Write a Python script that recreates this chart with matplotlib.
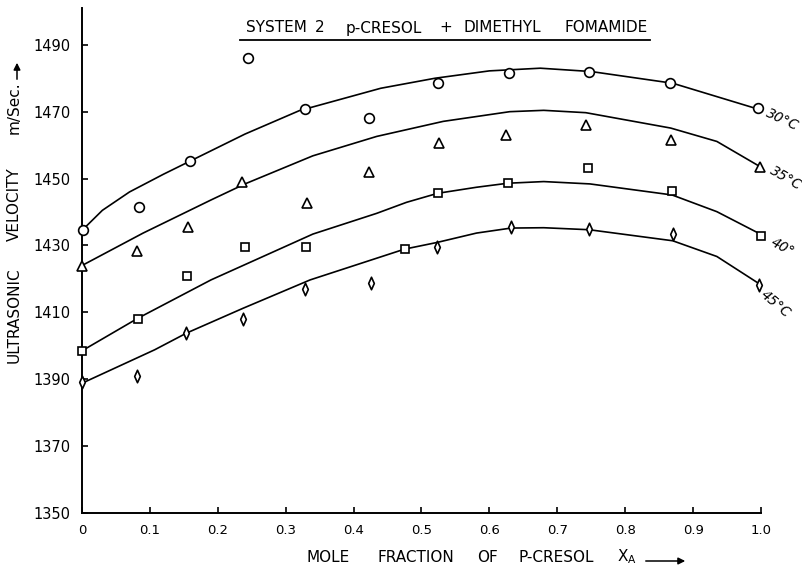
"""Ultrasonic velocity vs mole fraction, p-cresol + dimethyl formamide."""

import matplotlib

matplotlib.use("Agg")
import matplotlib.pyplot as plt
from matplotlib.lines import Line2D
from matplotlib.patches import FancyArrowPatch
from matplotlib.path import Path

# measured points
x30 = [0.002, 0.084, 0.159, 0.244, 0.329, 0.423, 0.524, 0.629, 0.747, 0.866, 0.996]
v30 = [1434.7, 1441.5, 1455.3, 1486.1, 1470.9, 1468.2, 1478.5, 1481.5, 1482.0, 1478.7, 1471.0]
x35 = [0.0, 0.081, 0.156, 0.236, 0.332, 0.422, 0.526, 0.625, 0.742, 0.867, 0.998]
v35 = [1424.0, 1428.2, 1435.6, 1449.1, 1442.6, 1451.9, 1460.6, 1463.1, 1466.1, 1461.4, 1453.4]
x40 = [0.0, 0.083, 0.155, 0.240, 0.330, 0.475, 0.524, 0.627, 0.745, 0.869, 1.0]
v40 = [1398.5, 1408.0, 1420.9, 1429.5, 1429.4, 1428.9, 1445.6, 1448.6, 1453.1, 1446.4, 1432.9]
x45 = [0.0, 0.081, 0.153, 0.237, 0.328, 0.426, 0.523, 0.632, 0.747, 0.870, 0.997]
v45 = [1389.3, 1391.1, 1403.8, 1408.0, 1416.9, 1418.7, 1429.4, 1435.6, 1434.9, 1433.3, 1418.2]

# smoothed curves (hand drawn through the points)
c30_x = [0.0, 0.03, 0.07, 0.12, 0.16, 0.24, 0.32, 0.44, 0.52, 0.60, 0.675, 0.75, 0.87, 0.935, 1.0]
c30_y = [1434.5, 1440.5, 1446.0, 1451.3, 1455.3, 1463.3, 1470.3, 1477.0, 1480.0, 1482.2, 1483.0, 1482.0, 1478.5, 1474.5, 1470.5]
c35_x = [0.0, 0.09, 0.19, 0.24, 0.34, 0.434, 0.532, 0.63, 0.68, 0.742, 0.867, 0.935, 1.0]
c35_y = [1424.0, 1433.7, 1443.6, 1448.4, 1456.8, 1462.6, 1467.1, 1470.0, 1470.4, 1469.7, 1465.1, 1461.1, 1453.4]
c40_x = [0.0, 0.082, 0.19, 0.34, 0.434, 0.478, 0.524, 0.581, 0.627, 0.68, 0.748, 0.869, 0.935, 1.0]
c40_y = [1398.5, 1408.2, 1419.7, 1433.4, 1439.6, 1442.9, 1445.6, 1447.4, 1448.6, 1449.1, 1448.4, 1445.1, 1440.1, 1433.3]
c45_x = [0.0, 0.107, 0.154, 0.237, 0.336, 0.475, 0.523, 0.581, 0.632, 0.68, 0.747, 0.87, 0.935, 1.0]
c45_y = [1388.8, 1398.8, 1403.8, 1411.2, 1419.7, 1428.9, 1430.9, 1433.7, 1435.2, 1435.3, 1434.7, 1431.4, 1426.7, 1418.2]

temps = ["30°C", "35°C", "40°", "45°C"]
xticks = [0, 0.1, 0.2, 0.3, 0.4, 0.5, 0.6, 0.7, 0.8, 0.9, 1.0]
xtick_labels = ["0", "0.1", "0.2", "0.3", "0.4", "0.5", "0.6", "0.7", "0.8", "0.9", "1.0"]
yticks = [1350, 1370, 1390, 1410, 1430, 1450, 1470, 1490]

title_words = ["SYSTEM", "2", "p-CRESOL", "+", "DIMETHYL", "FOMAMIDE"]
xlabel_words = ["MOLE", "FRACTION", "OF", "P-CRESOL", "X$_\\mathregular{A}$"]
ylabel_words = ["ULTRASONIC", "VELOCITY", "m/Sec."]

# slim diamond like the hand-drawn one
slim_diamond = Path([(0, 1), (0.45, 0), (0, -1), (-0.45, 0), (0, 1)],
                    [Path.MOVETO, Path.LINETO, Path.LINETO, Path.LINETO, Path.CLOSEPOLY])

W, H = 803, 572
fig = plt.figure(figsize=(W / 100, H / 100), dpi=100)
ax = fig.add_axes([82 / W, 1 - 513 / H, (761 - 82) / W, 505 / H])

series = [
    (x30, v30, c30_x, c30_y, "o", 7.0),
    (x35, v35, c35_x, c35_y, "^", 6.5),
    (x40, v40, c40_x, c40_y, "s", 6.0),
    (x45, v45, c45_x, c45_y, slim_diamond, 9.0),
]
for xs, vs, cx, cy, mk, ms in series:
    ax.plot(cx, cy, "-", color="black", lw=1.2, zorder=2, clip_on=False)
    ax.plot(xs, vs, linestyle="none", marker=mk, ms=ms, mfc="white", mec="black",
            mew=1.2, zorder=3, clip_on=False)

# temperature labels at the right-hand end of each curve
label_pos = [(1.032, 1467.6, -25), (1.037, 1450.2, -30), (1.032, 1429.6, -28), (1.022, 1412.5, -40)]
for txt, (lx, ly, rot) in zip(temps, label_pos):
    ax.text(lx, ly, txt, rotation=rot, ha="center", va="center", fontsize=10,
            style="italic", rotation_mode="anchor")

ax.set_xlim(0, 1.0)
ax.set_ylim(1350, 1501)
ax.set_xticks(xticks)
ax.set_xticklabels(xtick_labels)
ax.set_yticks(yticks)
ax.tick_params(direction="in", length=4, width=1.2)
ax.tick_params(axis="x", pad=8, labelsize=9.5)
ax.tick_params(axis="y", pad=8, labelsize=10.5)
for side in ("top", "right"):
    ax.spines[side].set_visible(False)
for side in ("left", "bottom"):
    ax.spines[side].set_linewidth(1.4)

# heading, word by word (wide spacing), with underline
for word, px in zip(title_words, [276, 320, 384, 446, 502, 606]):
    fig.text(px / W, 1 - 28 / H, word, ha="center", va="center", fontsize=11)
fig.add_artist(Line2D([240 / W, 650 / W], [1 - 40 / H] * 2, color="black", lw=1.3))

# x axis title with arrow
for word, px in zip(xlabel_words, [328, 416, 488, 556, 627]):
    fig.text(px / W, 1 - 557 / H, word, ha="center", va="center", fontsize=11)
fig.add_artist(FancyArrowPatch(
    (643 / W, 1 - 561 / H), (688 / W, 1 - 561 / H), transform=fig.transFigure,
    arrowstyle="-|>", mutation_scale=10, lw=1.1, color="black"))

# y axis title with arrow
for word, py in zip(ylabel_words, [315, 204, 108]):
    fig.text(14 / W, 1 - py / H, word, rotation=90, ha="center", va="center", fontsize=11)
fig.add_artist(FancyArrowPatch(
    (17 / W, 1 - 82 / H), (17 / W, 1 - 60 / H), transform=fig.transFigure,
    arrowstyle="-|>", mutation_scale=10, lw=1.1, color="black"))

fig.savefig("out.png", dpi=100)
